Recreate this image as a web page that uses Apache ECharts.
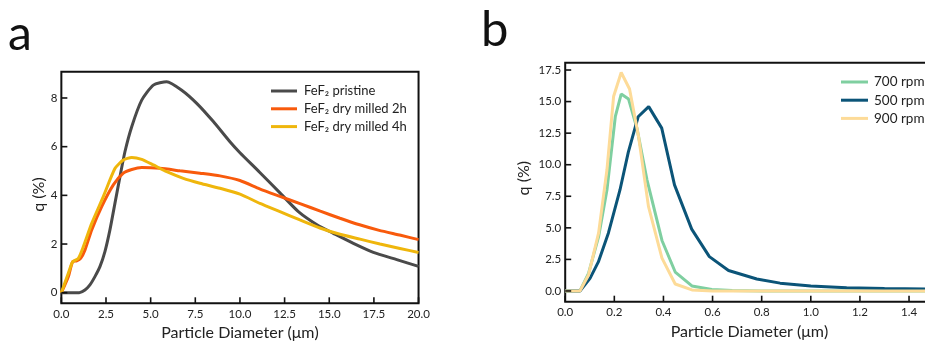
<!DOCTYPE html>
<html>
<head>
<meta charset="utf-8">
<script src="https://cdn.jsdelivr.net/npm/echarts@6/dist/echarts.min.js"></script>
<style>html,body{margin:0;padding:0;background:#fff}#c{width:925px;height:341px}</style>
</head>
<body>
<div id="c"></div>
<script>
// ---------- Panel a data ----------
const aPristineX = [0, 0.5, 1.0, 1.32, 1.6, 1.88, 2.16, 2.44, 2.72, 3.0, 3.28, 3.56, 3.94, 4.5, 5.15, 5.9, 6.74, 7.58, 8.51, 9.44, 10.0, 11.1, 12.24, 13.27, 14.4, 15.23, 16.35, 17.47, 18.78, 20];
const aPristineY = [0, 0, 0, 0.11, 0.32, 0.66, 1.07, 1.69, 2.58, 3.67, 4.76, 5.79, 6.82, 7.91, 8.53, 8.67, 8.32, 7.78, 7.03, 6.2, 5.75, 4.95, 4.1, 3.33, 2.75, 2.44, 2.03, 1.66, 1.36, 1.08];
const aMilled2hX = [0, 0.39, 0.63, 0.86, 1.08, 1.32, 1.7, 2.26, 2.91, 3.47, 3.94, 4.5, 5.52, 6.64, 7.76, 8.88, 10.0, 11.1, 12.2, 13.4, 14.5, 15.6, 16.7, 17.8, 19.0, 20];
const aMilled2hY = [0, 0.66, 1.27, 1.31, 1.41, 1.75, 2.58, 3.54, 4.43, 4.91, 5.06, 5.14, 5.11, 5.01, 4.91, 4.8, 4.61, 4.27, 3.97, 3.65, 3.35, 3.06, 2.79, 2.56, 2.36, 2.18];
const aMilled4hX = [0, 0.39, 0.63, 0.95, 1.23, 1.7, 2.35, 3.0, 3.47, 3.94, 4.5, 5.15, 5.9, 6.83, 7.76, 8.88, 10.0, 11.12, 12.24, 13.36, 14.48, 15.6, 16.72, 17.84, 18.96, 20];
const aMilled4hY = [0, 0.8, 1.27, 1.41, 1.89, 2.85, 3.95, 5.1, 5.45, 5.56, 5.48, 5.25, 4.97, 4.7, 4.5, 4.29, 4.05, 3.67, 3.33, 2.99, 2.66, 2.4, 2.2, 2.0, 1.82, 1.65];
const aNames = ['FeF₂ pristine', 'FeF₂ dry milled 2h', 'FeF₂ dry milled 4h'];
const aXTicks = [0, 2.5, 5, 7.5, 10, 12.5, 15, 17.5, 20];
const aYTicks = [0, 2, 4, 6, 8];
const aXRange = [0, 20];
const aYRange = [-0.435, 9.08];

// ---------- Panel b data ----------
const b700X = [0, 0.06, 0.095, 0.136, 0.17, 0.204, 0.228, 0.258, 0.292, 0.333, 0.394, 0.448, 0.516, 0.597, 0.68, 0.8, 1.0, 1.5];
const b700Y = [0, 0, 1.4, 4.3, 8.0, 13.8, 15.6, 15.2, 12.9, 8.8, 4.0, 1.5, 0.4, 0.12, 0.03, 0, 0, 0];
const b500X = [0, 0.06, 0.101, 0.135, 0.176, 0.223, 0.257, 0.297, 0.34, 0.393, 0.445, 0.515, 0.587, 0.665, 0.78, 0.875, 1.0, 1.146, 1.3, 1.5];
const b500Y = [0, 0, 1.0, 2.3, 4.6, 8.0, 11.0, 13.8, 14.6, 12.9, 8.4, 4.9, 2.72, 1.62, 0.95, 0.62, 0.4, 0.26, 0.19, 0.14];
const b900X = [0, 0.06, 0.095, 0.136, 0.17, 0.197, 0.228, 0.262, 0.299, 0.339, 0.394, 0.448, 0.516, 0.6, 1.0, 1.5];
const b900Y = [0, 0, 1.27, 4.6, 9.6, 15.4, 17.3, 16.0, 12.2, 6.7, 2.6, 0.55, 0.08, 0, 0, 0];
const bNames = ['700 rpm', '500 rpm', '900 rpm'];
const bXTicks = [0, 0.2, 0.4, 0.6, 0.8, 1.0, 1.2, 1.4];
const bYTicks = [0, 2.5, 5, 7.5, 10, 12.5, 15, 17.5];
const bXRange = [0, 1.5];
const bYRange = [-0.85, 18.08];

const FONT = 'Lato, "Noto Sans", sans-serif';
const TL = 6; // tick length in px
const pair = (xs, ys) => xs.map((x, i) => [x, ys[i]]);

function axisX(gridIndex, range, ticks, name) {
  return {
    type: 'value', gridIndex, min: range[0], max: range[1], position: 'bottom',
    axisLine: { show: false, onZero: false },
    axisTick: { show: false },
    axisLabel: { customValues: ticks, margin: 5, color: '#222', fontFamily: FONT, fontSize: 11.5, formatter: v => v.toFixed(1) },
    splitLine: { show: false },
    name, nameLocation: 'middle', nameGap: 16,
    nameTextStyle: { fontFamily: FONT, fontSize: 16, color: '#222' }
  };
}
function axisY(gridIndex, range, ticks, fmt, gap, pad) {
  return {
    type: 'value', gridIndex, min: range[0], max: range[1], position: 'left',
    axisLine: { show: false, onZero: false },
    axisTick: { show: false },
    axisLabel: { customValues: ticks, margin: 4, color: '#222', fontFamily: FONT, fontSize: 11.5, formatter: fmt },
    splitLine: { show: false },
    name: 'q (%)', nameLocation: 'middle', nameGap: gap, nameRotate: 90,
    nameTextStyle: { fontFamily: FONT, fontSize: 16, color: '#222', padding: pad }
  };
}
function line(name, data, color, xi, yi, smooth) {
  return {
    type: 'line', name, data, xAxisIndex: xi, yAxisIndex: yi,
    showSymbol: false, symbol: 'none', smooth: smooth, clip: true,
    lineStyle: { color, width: 3 }, itemStyle: { color }
  };
}

const letters = [
  { type: 'text', left: 8, top: 11, style: { text: 'a', font: '48px ' + FONT, fill: '#111' } },
  { type: 'text', left: 481, top: 6, style: { text: 'b', font: '49px ' + FONT, fill: '#111' } }
];

const chart = echarts.init(document.getElementById('c'), null, { renderer: 'canvas' });
chart.setOption({
  animation: false,
  backgroundColor: '#fff',
  grid: [
    { left: 61.35, top: 71.7, width: 357.2, height: 231.6, show: true, borderColor: '#111', borderWidth: 2, backgroundColor: 'transparent', outerBoundsMode: 'none', containLabel: false },
    { left: 565.2, top: 62.7, width: 368.4, height: 239, show: true, borderColor: '#111', borderWidth: 2, backgroundColor: 'transparent', outerBoundsMode: 'none', containLabel: false }
  ],
  xAxis: [
    axisX(0, aXRange, aXTicks, 'Particle Diameter (μm)'),
    axisX(1, bXRange, bXTicks, 'Particle Diameter (μm)')
  ],
  yAxis: [
    axisY(0, aYRange, aYTicks, v => String(v), 14, [0, 14, 0, 0]),
    axisY(1, bYRange, bYTicks, v => v.toFixed(1), 33, [0, 0, 0, 8])
  ],
  legend: [
    { data: aNames, orient: 'vertical', left: 266, top: 79, icon: 'rect', itemWidth: 26, itemHeight: 3, itemGap: 3.8,
      textStyle: { fontFamily: FONT, fontSize: 13, color: '#222', lineHeight: 14, padding: [0, 0, 0, 2] } },
    { data: bNames, orient: 'vertical', left: 836, top: 70, icon: 'rect', itemWidth: 27, itemHeight: 3, itemGap: 4.2,
      textStyle: { fontFamily: FONT, fontSize: 13.5, color: '#222', lineHeight: 14, padding: [0, 0, 0, 1] } }
  ],
  graphic: { elements: letters },
  series: [
    line(aNames[0], pair(aPristineX, aPristineY), '#4a4a4a', 0, 0, 0.2),
    line(aNames[1], pair(aMilled2hX, aMilled2hY), '#f85a0c', 0, 0, 0.2),
    line(aNames[2], pair(aMilled4hX, aMilled4hY), '#efb60c', 0, 0, 0.2),
    line(bNames[0], pair(b700X, b700Y), '#7fcfa0', 1, 1, false),
    line(bNames[1], pair(b500X, b500Y), '#0b5478', 1, 1, false),
    line(bNames[2], pair(b900X, b900Y), '#fddb98', 1, 1, false)
  ]
});

// Inward tick marks as graphic lines, positioned through the chart's own coordinate conversion
function tickEls(gridIndex, xTicks, yTicks, xRange, yRange) {
  const els = [];
  xTicks.forEach(v => {
    const p = chart.convertToPixel({ gridIndex }, [v, yRange[0]]);
    els.push({ type: 'line', z: 100, silent: true,
      shape: { x1: p[0], y1: p[1], x2: p[0], y2: p[1] - TL },
      style: { stroke: '#111', lineWidth: 1.6 } });
  });
  yTicks.forEach(v => {
    const p = chart.convertToPixel({ gridIndex }, [xRange[0], v]);
    els.push({ type: 'line', z: 100, silent: true,
      shape: { x1: p[0], y1: p[1], x2: p[0] + TL, y2: p[1] },
      style: { stroke: '#111', lineWidth: 1.6 } });
  });
  return els;
}
const tickGraphics = tickEls(0, aXTicks, aYTicks, aXRange, aYRange)
  .concat(tickEls(1, bXTicks, bYTicks, bXRange, bYRange));
chart.setOption({ graphic: { elements: letters.concat(tickGraphics) } }, { replaceMerge: ['graphic'] });
</script>
</body>
</html>
